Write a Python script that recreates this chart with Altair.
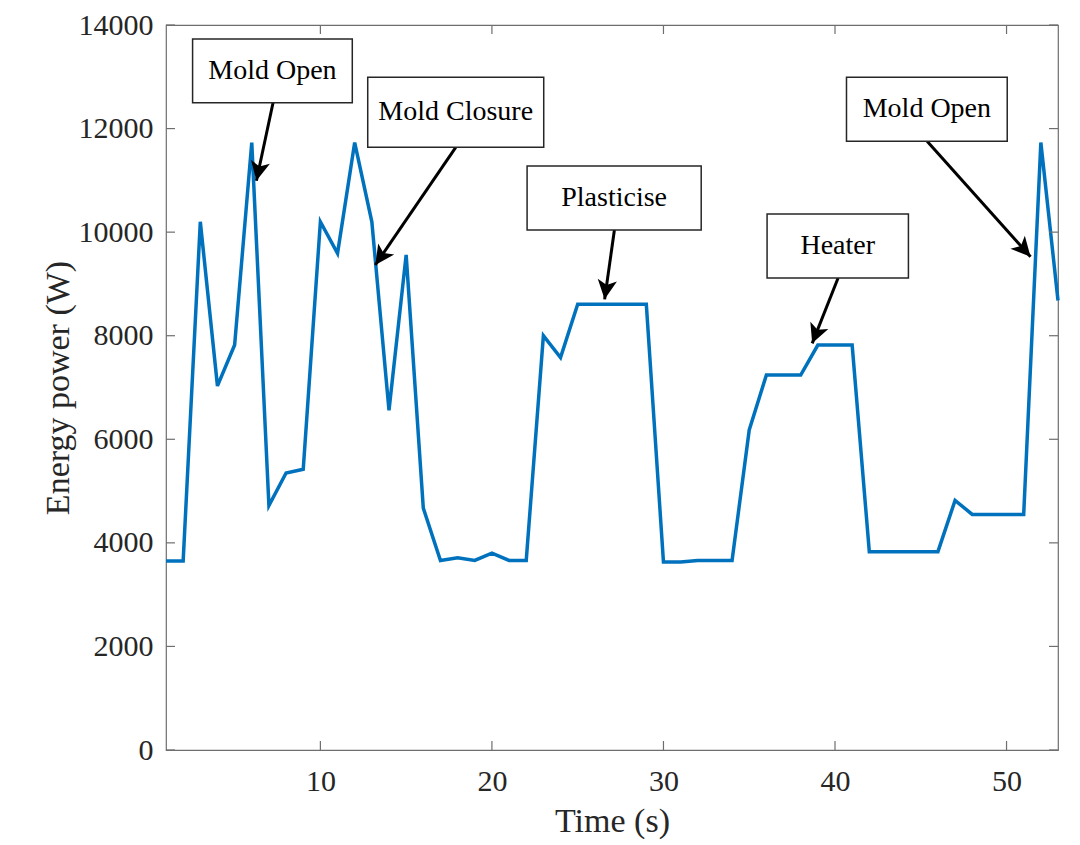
import math

import altair as alt
import pandas as pd

# --- data ---
time_s = list(range(1, 54))
power_w = [
    3650, 3650, 10200, 7030, 7820, 11730, 4720, 5350, 5420, 10200,
    9590, 11730, 10200, 6560, 9560, 4670, 3660, 3710, 3660, 3800,
    3660, 3660, 8000, 7580, 8610, 8610, 8610, 8610, 8610, 3630,
    3630, 3660, 3660, 3660, 6180, 7240, 7240, 7240, 7820, 7820,
    7820, 3830, 3830, 3830, 3830, 3830, 4820, 4550, 4550, 4550,
    4550, 11730, 8680,
]

ann_labels = ["Mold Open", "Mold Closure", "Plasticise", "Heater", "Mold Open"]
box_x0 = [2.55, 12.76, 22.05, 36.04, 40.67]
box_x1 = [11.86, 23.02, 32.2, 44.28, 50.04]
box_y0 = [12499, 11637, 10041, 9114, 11753]
box_y1 = [13729, 12989, 11276, 10350, 12989]
arrow_x0 = [7.24, 17.89, 27.14, 40.18, 45.37]
arrow_x1 = [6.27, 13.2, 26.57, 38.67, 51.4]
arrow_y1 = [10993, 9365, 8702, 7853, 9525]

x_ticks = [10, 20, 30, 40, 50]
y_ticks = [0, 2000, 4000, 6000, 8000, 10000, 12000, 14000]

W, H = 892, 725
X_DOM, Y_DOM = [1, 53], [0, 14000]
SERIF = "Liberation Serif"
INK = "#262626"
FRAME = "#6e6e6e"

xs = alt.Scale(domain=X_DOM, nice=False, zero=False)
ys = alt.Scale(domain=Y_DOM, nice=False)

# same axis objects on every layer so the merged axes survive
x_axis = alt.Axis(
    values=x_ticks, grid=False, domain=False, ticks=False, tickSize=0,
    labelFont=SERIF, labelFontSize=30, labelColor=INK,
    labelBaseline="alphabetic", labelPadding=40,
    labelFlush=False, labelOverlap=False,
    titleFont=SERIF, titleFontSize=34, titleFontWeight="normal",
    titleColor=INK, titleX=W / 2, titleY=81, titleBaseline="alphabetic",
)
y_axis = alt.Axis(
    values=y_ticks, format="d", grid=False, domain=False, ticks=False,
    tickSize=0, labelFont=SERIF, labelFontSize=30, labelColor=INK,
    labelPadding=13, labelFlush=False, labelOverlap=False,
    titleFont=SERIF, titleFontSize=34, titleFontWeight="normal",
    titleColor=INK, titleAngle=270, titleX=-98, titleY=H / 2,
    titleBaseline="alphabetic",
)
X_TITLE = "Time (s)"
Y_TITLE = "Energy power (W)"


def xenc(field):
    return alt.X(field, scale=xs, axis=x_axis, title=X_TITLE)


def yenc(field):
    return alt.Y(field, scale=ys, axis=y_axis, title=Y_TITLE)


df = pd.DataFrame({"t": time_s, "p": power_w})

ann = pd.DataFrame({
    "label": ann_labels,
    "x0": box_x0, "x1": box_x1, "y0": box_y0, "y1": box_y1,
    "ax0": arrow_x0, "ay0": box_y0, "ax1": arrow_x1, "ay1": arrow_y1,
})
ann["xc"] = (ann["x0"] + ann["x1"]) / 2
ann["yc"] = (ann["y0"] + ann["y1"]) / 2


def head_angle(r):
    # direction of the arrow in screen pixels, clockwise from "up"
    dx = (r["ax1"] - r["ax0"]) * W / (X_DOM[1] - X_DOM[0])
    dy = -(r["ay1"] - r["ay0"]) * H / (Y_DOM[1] - Y_DOM[0])
    return math.degrees(math.atan2(dx, -dy)) % 360


ann["angle"] = ann.apply(head_angle, axis=1)

line = alt.Chart(df).mark_line(color="#0072BD", strokeWidth=3.5).encode(
    x=xenc("t:Q"), y=yenc("p:Q")
)

yt = pd.DataFrame({"v": y_ticks})
xt = pd.DataFrame({"v": x_ticks})
tick_style = dict(color=FRAME, strokeWidth=1.2)
left_ticks = alt.Chart(yt).mark_rule(**tick_style).encode(
    y=yenc("v:Q"), x=alt.value(0), x2=alt.value(9)
)
right_ticks = alt.Chart(yt).mark_rule(**tick_style).encode(
    y=yenc("v:Q"), x=alt.value(W - 9), x2=alt.value(W)
)
bottom_ticks = alt.Chart(xt).mark_rule(**tick_style).encode(
    x=xenc("v:Q"), y=alt.value(H - 9), y2=alt.value(H)
)
top_ticks = alt.Chart(xt).mark_rule(**tick_style).encode(
    x=xenc("v:Q"), y=alt.value(0), y2=alt.value(9)
)

shafts = alt.Chart(ann).mark_rule(color="black", strokeWidth=3).encode(
    x=xenc("ax0:Q"), x2="ax1:Q", y=yenc("ay0:Q"), y2="ay1:Q"
)

heads = alt.Chart(ann).mark_point(
    shape="M0,0L0.5,1L0,0.75L-0.5,1Z", size=1500, filled=True,
    color="black", opacity=1, strokeWidth=0,
).encode(
    x=xenc("ax1:Q"), y=yenc("ay1:Q"),
    angle=alt.Angle("angle:Q", scale=None),
)

boxes = alt.Chart(ann).mark_rect(
    fill="white", stroke=INK, strokeWidth=1.5
).encode(
    x=xenc("x0:Q"), x2="x1:Q", y=yenc("y0:Q"), y2="y1:Q"
)

labels = alt.Chart(ann).mark_text(
    font=SERIF, fontSize=28, color="black", baseline="middle", align="center"
).encode(
    x=xenc("xc:Q"), y=yenc("yc:Q"), text="label:N"
)

chart = (
    alt.layer(
        line, shafts, heads, boxes, labels,
        left_ticks, right_ticks, bottom_ticks, top_ticks,
    )
    .properties(
        width=W, height=H,
        autosize=alt.AutoSizeParams(type="none"),
        padding={"left": 158, "top": 17, "right": 14, "bottom": 95},
        background="white",
    )
    .configure_view(stroke=FRAME, strokeWidth=1.2)
)

chart.save("out.html", embed_options={"renderer": "svg", "actions": False})
